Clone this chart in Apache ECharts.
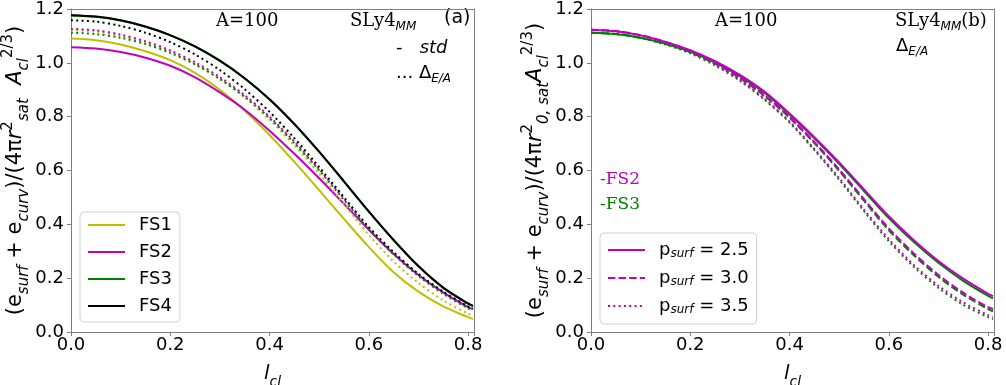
<!DOCTYPE html>
<html>
<head>
<meta charset="utf-8">
<script src="https://cdn.jsdelivr.net/npm/echarts@6/dist/echarts.min.js"></script>
<style>
  html, body { margin: 0; padding: 0; background: #fff; }
  #chart { width: 1006px; height: 385px; }
</style>
</head>
<body>
<div id="chart"></div>
<script>
// cluster size l_cl sampled on a common grid
const lcl = [0, 0.05, 0.1, 0.15, 0.2, 0.25, 0.3, 0.35, 0.4, 0.45, 0.5, 0.55, 0.6, 0.65, 0.7, 0.75, 0.8, 0.81];

// panel (a): standard surface energy (solid) for the four functionals
const fs1Std = [1.090, 1.084, 1.068, 1.043, 1.010, 0.963, 0.900, 0.822, 0.732, 0.632, 0.527, 0.420, 0.316, 0.222, 0.150, 0.095, 0.055, 0.048];
const fs2Std = [1.058, 1.053, 1.040, 1.019, 0.989, 0.946, 0.890, 0.826, 0.748, 0.662, 0.571, 0.476, 0.380, 0.290, 0.212, 0.147, 0.092, 0.085];
const fs3Std = [1.176, 1.171, 1.157, 1.134, 1.102, 1.060, 1.007, 0.942, 0.864, 0.772, 0.669, 0.559, 0.447, 0.341, 0.244, 0.164, 0.105, 0.096];
const fs4Std = [1.177, 1.172, 1.158, 1.135, 1.103, 1.061, 1.008, 0.943, 0.865, 0.773, 0.670, 0.560, 0.448, 0.342, 0.245, 0.165, 0.106, 0.097];
// panel (a): Delta_E/A corrected (dotted)
const fs1Delta = [1.121, 1.116, 1.100, 1.075, 1.041, 0.996, 0.940, 0.871, 0.789, 0.693, 0.588, 0.475, 0.361, 0.262, 0.182, 0.118, 0.068, 0.061];
const fs2Delta = [1.126, 1.121, 1.105, 1.080, 1.046, 1.002, 0.947, 0.880, 0.800, 0.707, 0.605, 0.495, 0.386, 0.294, 0.213, 0.147, 0.093, 0.086];
const fs3Delta = [1.112, 1.107, 1.093, 1.070, 1.037, 0.994, 0.940, 0.874, 0.795, 0.702, 0.601, 0.491, 0.381, 0.289, 0.208, 0.142, 0.088, 0.081];
const fs4Delta = [1.158, 1.153, 1.137, 1.112, 1.077, 1.031, 0.973, 0.902, 0.818, 0.720, 0.613, 0.501, 0.390, 0.297, 0.216, 0.150, 0.095, 0.088];

// panel (b): Delta_E/A, varying p_surf, for FS2 and FS3
const fs2P25 = [1.123, 1.117, 1.102, 1.078, 1.047, 1.006, 0.955, 0.892, 0.812, 0.724, 0.630, 0.530, 0.430, 0.342, 0.264, 0.198, 0.142, 0.133];
const fs2P30 = [1.123, 1.118, 1.103, 1.078, 1.045, 1.001, 0.946, 0.879, 0.799, 0.706, 0.604, 0.494, 0.385, 0.293, 0.212, 0.146, 0.092, 0.085];
const fs2P35 = [1.123, 1.117, 1.101, 1.075, 1.041, 0.995, 0.937, 0.866, 0.782, 0.680, 0.572, 0.455, 0.345, 0.250, 0.172, 0.110, 0.063, 0.056];
const fs3P25 = [1.112, 1.107, 1.093, 1.071, 1.041, 1.001, 0.951, 0.888, 0.808, 0.720, 0.625, 0.524, 0.423, 0.335, 0.257, 0.190, 0.134, 0.125];
const fs3P30 = [1.112, 1.107, 1.093, 1.071, 1.039, 0.997, 0.943, 0.876, 0.796, 0.702, 0.599, 0.488, 0.378, 0.286, 0.205, 0.139, 0.085, 0.077];
const fs3P35 = [1.112, 1.107, 1.092, 1.068, 1.035, 0.990, 0.933, 0.862, 0.778, 0.676, 0.566, 0.449, 0.338, 0.243, 0.164, 0.101, 0.055, 0.048];

const pSurf = ['2.5', '3.0', '3.5'];
const yTicks = { min: 0, max: 1.2, step: 0.2 };
const xTicks = { min: 0, max: 0.812, step: 0.2 };

const YEL = '#bfbf00', MAG = '#c000c0', GRN = '#008000', BLK = '#000000';
const SANS = 'DejaVu Sans', SERIF = 'DejaVu Serif';
const FRAME = '#808080';

const pairs = ys => lcl.map((x, i) => [x, ys[i]]);
const DOT = [2, 3.3];
const DASH = [7.4, 3.2];

function line(name, ys, color, type, gi, z) {
  return {
    name, type: 'line', xAxisIndex: gi, yAxisIndex: gi,
    data: pairs(ys), smooth: 0.3, symbol: 'none', showSymbol: false,
    lineStyle: { color, width: 2, type }, itemStyle: { color },
    z: z || 2, animation: false, silent: true
  };
}

const grids = [
  { left: 71, right: 532, top: 9, bottom: 53, outerBoundsMode: 'none', containLabel: false },
  { left: 591, right: 12, top: 9, bottom: 53, outerBoundsMode: 'none', containLabel: false }
];

const yNameRich = {
  n: { fontFamily: SANS, fontSize: 21, color: '#000', lineHeight: 31, verticalAlign: 'middle' },
  ni: { fontFamily: SANS, fontSize: 21, fontStyle: 'italic', color: '#000', lineHeight: 31, verticalAlign: 'middle' },
  sb: { fontFamily: SANS, fontSize: 15, fontStyle: 'italic', color: '#000', lineHeight: 15, verticalAlign: 'bottom' },
  sp: { fontFamily: SANS, fontSize: 15, color: '#000', lineHeight: 15, verticalAlign: 'top' }
};
const xNameRich = {
  ni: { fontFamily: SANS, fontSize: 20, fontStyle: 'italic', color: '#000', lineHeight: 30, verticalAlign: 'middle' },
  sb: { fontFamily: SANS, fontSize: 14, fontStyle: 'italic', color: '#000', lineHeight: 14, verticalAlign: 'bottom' }
};

function xAxis(gi) {
  return {
    type: 'value', gridIndex: gi, min: xTicks.min, max: xTicks.max, interval: xTicks.step,
    name: '{ni|l}{sb|cl}', nameLocation: 'middle', nameGap: 27,
    nameTextStyle: { rich: xNameRich },
    axisLine: { show: true, onZero: false, lineStyle: { color: FRAME, width: 1 } },
    axisTick: { show: true, length: 4, inside: false, lineStyle: { color: FRAME } },
    splitLine: { show: false },
    axisLabel: {
      color: '#000', fontFamily: SANS, fontSize: 18, margin: 4,
      formatter: v => (Math.abs(v / xTicks.step - Math.round(v / xTicks.step)) < 1e-6 ? v.toFixed(1) : '')
    }
  };
}
function xTop(gi) {
  return {
    type: 'value', gridIndex: gi, position: 'top', min: xTicks.min, max: xTicks.max,
    axisLine: { show: true, onZero: false, lineStyle: { color: FRAME, width: 1 } },
    axisTick: { show: false }, axisLabel: { show: false }, splitLine: { show: false }
  };
}
function yAxis(gi, nameText) {
  return {
    type: 'value', gridIndex: gi, min: yTicks.min, max: yTicks.max, interval: yTicks.step,
    name: nameText, nameLocation: 'middle', nameRotate: 90, nameGap: 38,
    nameTextStyle: { rich: yNameRich },
    axisLine: { show: true, onZero: false, lineStyle: { color: FRAME, width: 1 } },
    axisTick: { show: true, length: 4, inside: false, lineStyle: { color: FRAME } },
    splitLine: { show: false },
    axisLabel: { color: '#000', fontFamily: SANS, fontSize: 18, margin: 7, formatter: v => v.toFixed(1) }
  };
}
function yRight(gi) {
  return {
    type: 'value', gridIndex: gi, position: 'right', min: yTicks.min, max: yTicks.max,
    axisLine: { show: true, onZero: false, lineStyle: { color: FRAME, width: 1 } },
    axisTick: { show: false }, axisLabel: { show: false }, splitLine: { show: false }
  };
}

const yNameA = '{n|(e}{sb|surf}{n| + e}{sb|curv}{n|)/(4π}{ni|r}{sp|2}{sb|sat}{n|  }{ni|A}{sb|cl}{sp|2/3}{n|)}';
const yNameB = '{n|(e}{sb|surf}{n| + e}{sb|curv}{n|)/(4π}{ni|r}{sp|2}{sb|0, sat}{ni|A}{sb|cl}{sp|2/3}{n|)}';

const legendText = { fontFamily: SANS, fontSize: 18, color: '#000', lineHeight: 20, padding: [0, 0, 0, 9] };

const option = {
  backgroundColor: '#fff',
  animation: false,
  grid: grids,
  xAxis: [xAxis(0), xAxis(1), xTop(0), xTop(1)],
  yAxis: [yAxis(0, yNameA), yAxis(1, yNameB), yRight(0), yRight(1)],
  legend: [
    {
      data: ['FS1', 'FS2', 'FS3', 'FS4'], orient: 'vertical', left: 80, top: 212,
      itemWidth: 37, itemHeight: 14, itemGap: 7, padding: [3, 8, 6, 7],
      borderColor: '#d0d0d0', borderWidth: 1, borderRadius: 4, backgroundColor: 'rgba(255,255,255,0.8)',
      textStyle: legendText, selectedMode: false, itemStyle: { opacity: 0 }
    },
    {
      data: ['p' + pSurf[0], 'p' + pSurf[1], 'p' + pSurf[2]], orient: 'vertical', left: 600, top: 233,
      itemWidth: 37, itemHeight: 20, itemGap: 9, padding: [8, 8, 8, 7],
      borderColor: '#d0d0d0', borderWidth: 1, borderRadius: 4, backgroundColor: 'rgba(255,255,255,0.8)',
      selectedMode: false, itemStyle: { opacity: 0 },
      formatter: name => '{a|p}{b|surf}{a| = ' + name.slice(1) + '}',
      textStyle: {
        padding: [0, 0, 0, 9],
        rich: {
          a: { fontFamily: SANS, fontSize: 18, color: '#000', lineHeight: 20, verticalAlign: 'middle' },
          b: { fontFamily: SANS, fontSize: 12, fontStyle: 'italic', color: '#000', lineHeight: 12, verticalAlign: 'bottom' }
        }
      }
    }
  ],
  series: [
    line('FS1', fs1Std, YEL, 'solid', 0, 2),
    line('FS2', fs2Std, MAG, 'solid', 0, 2),
    line('FS3', fs3Std, GRN, 'solid', 0, 2),
    line('FS1 Δ', fs1Delta, YEL, DOT, 0, 3),
    line('FS2 Δ', fs2Delta, MAG, DOT, 0, 3),
    line('FS3 Δ', fs3Delta, GRN, DOT, 0, 3),
    line('FS4 Δ', fs4Delta, BLK, DOT, 0, 3),
    line('FS4', fs4Std, BLK, 'solid', 0, 4),

    line('g' + pSurf[0], fs3P25, GRN, 'solid', 1, 2),
    line('g' + pSurf[1], fs3P30, GRN, DASH, 1, 2),
    line('g' + pSurf[2], fs3P35, GRN, DOT, 1, 2),
    line('p' + pSurf[0], fs2P25, MAG, 'solid', 1, 3),
    line('p' + pSurf[1], fs2P30, MAG, DASH, 1, 3),
    line('p' + pSurf[2], fs2P35, MAG, DOT, 1, 3)
  ],
  graphic: [
    { type: 'text', left: 216, top: 12, style: { text: 'A=100', font: '18px "' + SERIF + '"', fill: '#000' } },
    { type: 'text', left: 350, top: 12, style: {
        text: '{s|SLy4}{m|MM}',
        rich: {
          s: { fontFamily: SERIF, fontSize: 18, color: '#000', lineHeight: 24, verticalAlign: 'middle' },
          m: { fontFamily: SANS, fontSize: 12, fontStyle: 'italic', color: '#000', lineHeight: 12, verticalAlign: 'bottom' }
        } } },
    { type: 'text', left: 444, top: 9, style: { text: '(a)', font: '19px "' + SANS + '"', fill: '#000' } },
    { type: 'text', left: 396, top: 39, style: {
        text: '{a|-   }{b|std}',
        rich: {
          a: { fontFamily: SANS, fontSize: 18, color: '#000' },
          b: { fontFamily: SANS, fontSize: 18, fontStyle: 'italic', color: '#000' }
        } } },
    { type: 'text', left: 396, top: 64, style: {
        text: '{a|... Δ}{b|E/A}',
        rich: {
          a: { fontFamily: SANS, fontSize: 18, color: '#000', lineHeight: 24, verticalAlign: 'middle' },
          b: { fontFamily: SANS, fontSize: 12, fontStyle: 'italic', color: '#000', lineHeight: 12, verticalAlign: 'bottom' }
        } } },

    { type: 'text', left: 715, top: 12, style: { text: 'A=100', font: '18px "' + SERIF + '"', fill: '#000' } },
    { type: 'text', left: 895, top: 12, style: {
        text: '{s|SLy4}{m|MM}{s|(b)}',
        rich: {
          s: { fontFamily: SERIF, fontSize: 18, color: '#000', lineHeight: 24, verticalAlign: 'middle' },
          m: { fontFamily: SANS, fontSize: 12, fontStyle: 'italic', color: '#000', lineHeight: 12, verticalAlign: 'bottom' }
        } } },
    { type: 'text', left: 896, top: 37, style: {
        text: '{a|Δ}{b|E/A}',
        rich: {
          a: { fontFamily: SANS, fontSize: 18, color: '#000', lineHeight: 24, verticalAlign: 'middle' },
          b: { fontFamily: SANS, fontSize: 12, fontStyle: 'italic', color: '#000', lineHeight: 12, verticalAlign: 'bottom' }
        } } },
    { type: 'text', left: 600, top: 171, style: { text: '-FS2', font: '17px "' + SERIF + '"', fill: MAG } },
    { type: 'text', left: 600, top: 196, style: { text: '-FS3', font: '17px "' + SERIF + '"', fill: GRN } }
  ]
};

const chart = echarts.init(document.getElementById('chart'), null, { renderer: 'canvas' });
chart.setOption(option);
</script>
</body>
</html>
